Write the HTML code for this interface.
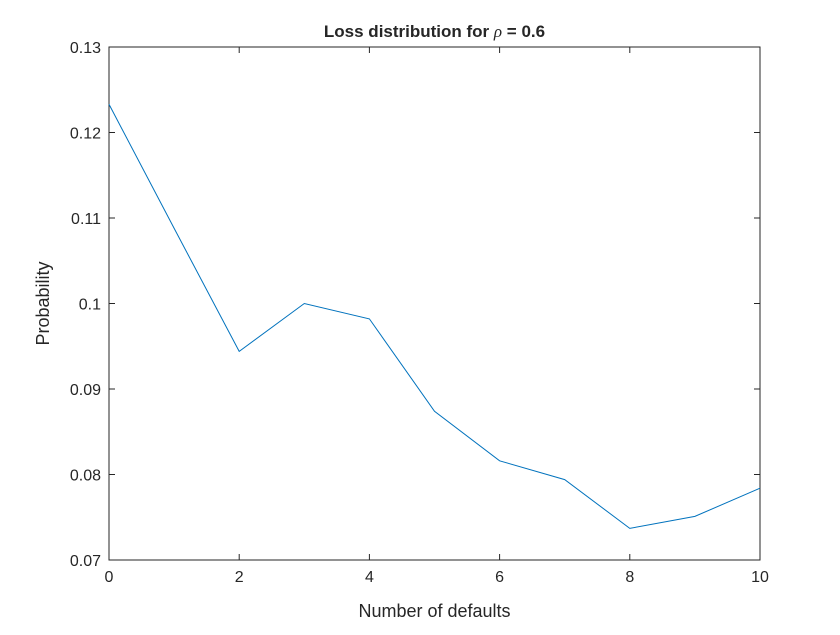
<!DOCTYPE html>
<html><head><meta charset="utf-8"><style>
body{margin:0;background:#fff;}
svg text{font-family:"Liberation Sans",Arial,sans-serif;fill:#262626;}
</style></head><body>
<svg id="chart" width="840" height="630" viewBox="0 0 840 630">
<rect width="840" height="630" fill="#fff"/>
<text x="434.5" y="37" text-anchor="middle" font-size="17" font-weight="bold">Loss distribution for <tspan font-family="Liberation Serif" font-style="italic" font-weight="normal">ρ</tspan> = 0.6</text>
<g id="plot"></g>
<text x="434.5" y="617" text-anchor="middle" font-size="18">Number of defaults</text>
<text transform="translate(49,303.5) rotate(-90)" text-anchor="middle" font-size="18">Probability</text>
</svg>
<script>
const xValues=[0,1,2,3,4,5,6,7,8,9,10];
const probValues=[0.1233,0.1088,0.0944,0.1000,0.0982,0.0874,0.0816,0.0794,0.0737,0.0751,0.0784];
const xTicks=[0,2,4,6,8,10];
const yTicks=[0.07,0.08,0.09,0.1,0.11,0.12,0.13];
const yTickLabels=["0.07","0.08","0.09","0.1","0.11","0.12","0.13"];
const L=109,R=760,T=47,B=560,xmin=0,xmax=10,ymin=0.07,ymax=0.13;
const sx=v=>L+(v-xmin)/(xmax-xmin)*(R-L);
const sy=v=>B-(v-ymin)/(ymax-ymin)*(B-T);
const NS="http://www.w3.org/2000/svg";
const g=document.getElementById('plot');
function mk(t,a){const e=document.createElementNS(NS,t);for(const k in a)e.setAttribute(k,a[k]);g.appendChild(e);return e;}
const box=mk('rect',{x:L,y:T,width:R-L,height:B-T,fill:'none',stroke:'#262626','stroke-width':1});


xTicks.forEach(v=>{const x=sx(v);
const t1=mk('line',{x1:x,x2:x,y1:B,y2:B-6,stroke:'#262626'});


const t2=mk('line',{x1:x,x2:x,y1:T,y2:T+6,stroke:'#262626'});


const tx=mk('text',{x:x,y:B+22,'text-anchor':'middle','font-size':16});tx.textContent=v;

});
yTicks.forEach((v,i)=>{const y=sy(v);
const t1=mk('line',{x1:L,x2:L+6,y1:y,y2:y,stroke:'#262626'});


const t2=mk('line',{x1:R,x2:R-6,y1:y,y2:y,stroke:'#262626'});


const tx=mk('text',{x:L-8,y:y+6,'text-anchor':'end','font-size':16});tx.textContent=yTickLabels[i];

});
const pts=xValues.map((x,i)=>sx(x)+','+sy(probValues[i])).join(' ');
const line=mk('polyline',{points:pts,fill:'none',stroke:'#0072BD','stroke-width':1});


</script>
</body></html>
